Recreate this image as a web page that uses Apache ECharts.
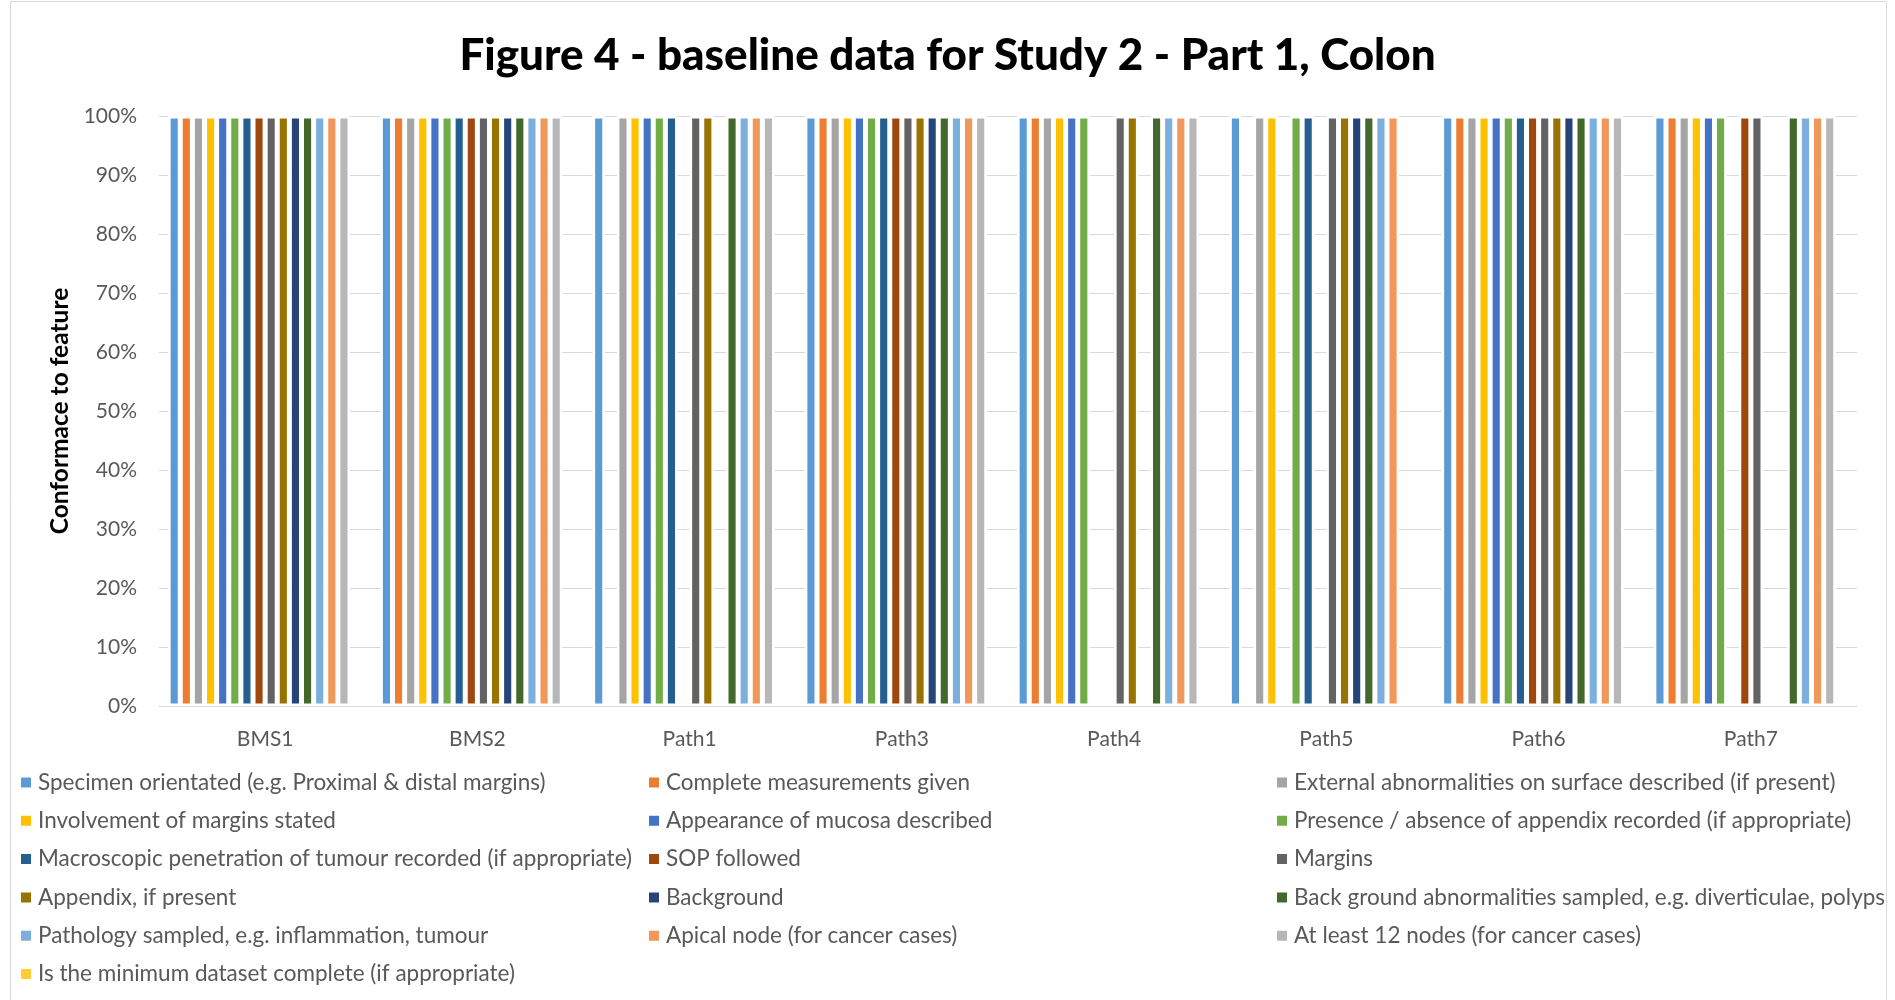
<!DOCTYPE html>
<html>
<head>
<meta charset="utf-8">
<title>Figure 4 - baseline data for Study 2 - Part 1, Colon</title>
<script src="https://cdn.jsdelivr.net/npm/echarts@6/dist/echarts.min.js"></script>
<style>
  html, body { margin: 0; padding: 0; background: #ffffff; }
  #chart { width: 1895px; height: 1000px; }
</style>
</head>
<body>
<div id="chart"></div>
<script>
// Reviewers / pathologists on the category axis
const categories = ['BMS1', 'BMS2', 'Path1', 'Path3', 'Path4', 'Path5', 'Path6', 'Path7'];

// Value-axis tick labels (percent)
const yTicks = [0, 10, 20, 30, 40, 50, 60, 70, 80, 90, 100];

// Features checked, one series each
const featureNames = [
  'Specimen orientated (e.g. Proximal & distal margins)',
  'Complete measurements given',
  'External abnormalities on surface described (if present)',
  'Involvement of margins stated',
  'Appearance of mucosa described',
  'Presence / absence of appendix recorded (if appropriate)',
  'Macroscopic penetration of tumour recorded (if appropriate)',
  'SOP followed',
  'Margins',
  'Appendix, if present',
  'Background',
  'Back ground abnormalities sampled, e.g. diverticulae, polyps',
  'Pathology sampled, e.g. inflammation, tumour',
  'Apical node (for cancer cases)',
  'At least 12 nodes (for cancer cases)',
  'Is the minimum dataset complete (if appropriate)'
];

// Conformance (%) per feature, in category order
const specimenOrientated     = [100, 100, 100, 100, 100, 100, 100, 100];
const completeMeasurements   = [100, 100,   0, 100, 100,   0, 100, 100];
const externalAbnormalities  = [100, 100, 100, 100, 100, 100, 100, 100];
const involvementOfMargins   = [100, 100, 100, 100, 100, 100, 100, 100];
const appearanceOfMucosa     = [100, 100, 100, 100, 100,   0, 100, 100];
const appendixRecorded       = [100, 100, 100, 100, 100, 100, 100, 100];
const macroscopicPenetration = [100, 100, 100, 100,   0, 100, 100,   0];
const sopFollowed            = [100, 100,   0, 100,   0,   0, 100, 100];
const margins                = [100, 100, 100, 100, 100, 100, 100, 100];
const appendixIfPresent      = [100, 100, 100, 100, 100, 100, 100,   0];
const background             = [100, 100,   0, 100,   0, 100, 100,   0];
const backgroundAbnormal     = [100, 100, 100, 100, 100, 100, 100, 100];
const pathologySampled       = [100, 100, 100, 100, 100, 100, 100, 100];
const apicalNode             = [100, 100, 100, 100, 100, 100, 100, 100];
const atLeast12Nodes         = [100, 100, 100, 100, 100,   0, 100, 100];
const minimumDataset         = [  0,   0,   0,   0,   0,   0,   0,   0];

const seriesValues = [
  specimenOrientated, completeMeasurements, externalAbnormalities, involvementOfMargins,
  appearanceOfMucosa, appendixRecorded, macroscopicPenetration, sopFollowed,
  margins, appendixIfPresent, background, backgroundAbnormal,
  pathologySampled, apicalNode, atLeast12Nodes, minimumDataset
];

const palette = [
  '#5B9BD5', '#ED7D31', '#A5A5A5', '#FFC000', '#4472C4', '#70AD47',
  '#255E91', '#9E480E', '#636363', '#997300', '#264478', '#43682B',
  '#7CAFDD', '#F1975A', '#B7B7B7', '#FFCD33'
];

const FONT = 'Lato';
const TEXT_GREY = '#595959';

const series = featureNames.map((name, i) => ({
  name: name,
  type: 'bar',
  barGap: '0%',
  barCategoryGap: '8.6%',
  itemStyle: { color: palette[i], borderColor: '#ffffff', borderWidth: 2.5 },
  emphasis: { disabled: true },
  data: seriesValues[i].map(v => v === 0
    ? { value: v, itemStyle: { borderWidth: 0 } }
    : v)
}));

// Legend laid out in three columns, filled row by row
const legendColumns = [[], [], []];
featureNames.forEach((n, i) => legendColumns[i % 3].push(n));
const legendLeft = [19, 647, 1275];

const legends = legendColumns.map((names, c) => ({
  data: names,
  orient: 'vertical',
  left: legendLeft[c],
  top: 771,
  padding: 0,
  itemWidth: 12,
  itemHeight: 12,
  itemGap: 15.3,
  icon: 'rect',
  selectedMode: false,
  textStyle: { fontFamily: FONT, fontSize: 22.5, color: TEXT_GREY, lineHeight: 22, padding: [0, 0, 0, 1] }
}));

const chart = echarts.init(document.getElementById('chart'), null, { renderer: 'canvas' });
chart.setOption({
  animation: false,
  color: palette,
  backgroundColor: '#ffffff',
  title: {
    text: 'Figure 4 - baseline data for Study 2 - Part 1, Colon',
    left: 'center',
    top: 29,
    textStyle: { fontFamily: FONT, fontWeight: 900, fontSize: 44, color: '#000000' }
  },
  graphic: [{
    type: 'rect',
    shape: { x: 10.5, y: 1.5, width: 1876, height: 1010 },
    style: { fill: 'none', stroke: '#D9D9D9', lineWidth: 1 },
    silent: true,
    z: -10
  }],
  legend: legends,
  grid: { left: 159, right: 38, top: 116, bottom: 294, containLabel: false },
  xAxis: {
    type: 'category',
    data: categories,
    axisLine: { show: true, lineStyle: { color: '#D9D9D9', width: 1 } },
    axisTick: { show: false },
    axisLabel: { fontFamily: FONT, fontSize: 21, color: TEXT_GREY, margin: 23 }
  },
  yAxis: {
    type: 'value',
    min: yTicks[0],
    max: yTicks[yTicks.length - 1],
    interval: yTicks[1] - yTicks[0],
    name: 'Conformace to feature',
    nameLocation: 'middle',
    nameRotate: 90,
    nameGap: 86,
    nameTextStyle: { fontFamily: FONT, fontWeight: 'bold', fontSize: 24.5, color: '#000000' },
    axisLine: { show: false },
    axisTick: { show: false },
    splitLine: { lineStyle: { color: '#D9D9D9', width: 1 } },
    axisLabel: { fontFamily: FONT, fontSize: 21, color: TEXT_GREY, margin: 22, formatter: '{value}%' }
  },
  series: series
});
</script>
</body>
</html>
